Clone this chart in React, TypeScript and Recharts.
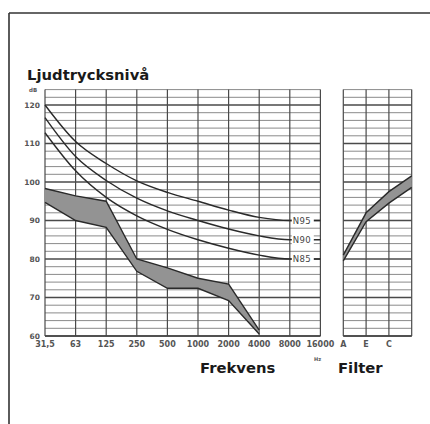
import { ComposedChart, Line, Area, XAxis, YAxis, CartesianGrid } from 'recharts';

// octave band centre frequencies (x axis of the main panel)
const freqLabels = ['31,5', '63', '125', '250', '500', '1000', '2000', '4000', '8000', '16000'];

// noise rating curves
const n95 = [120, 110.5, 104.8, 100.3, 97.3, 95, 92.7, 90.8, 90, 90];
const n90 = [116.7, 106.6, 100.4, 95.8, 92.5, 90, 87.8, 86, 85, 85];
const n85 = [112.8, 102.9, 96, 91.2, 87.7, 85, 82.8, 81, 80, 80];

// measured range (shaded band)
const bandHigh = [98.3, 96.4, 95, 80, 77.7, 75, 73.5, 61.5, null, null];
const bandLow = [94.7, 90, 88.2, 76.8, 72.4, 72.4, 69.2, 60.5, null, null];

// weighted levels (right panel)
const filterLabels = ['A', 'E', 'C', ''];
const filterHigh = [81, 92, 97.5, 101.6];
const filterLow = [79.5, 89.7, 94.5, 98.6];

const Y_MIN = 60;
const Y_MAX = 124;
const dbTicks = Array.from({ length: 33 }, (_, i) => Y_MIN + i * 2);

const mainData = freqLabels.map((f, i) => ({
  i,
  f,
  n95: n95[i],
  n90: n90[i],
  n85: n85[i],
  band: bandHigh[i] == null ? null : [bandLow[i], bandHigh[i]],
}));

const filterData = filterLabels.map((f, i) => ({
  i,
  f,
  band: [filterLow[i], filterHigh[i]],
}));

const FONT = '"DejaVu Sans", sans-serif';
const tickStyle = { fontFamily: FONT, fontSize: 8, fontWeight: 700, fill: '#555' };

const PLOT_TOP = 89.6;
const PLOT_BOTTOM = 336;

const margin = { top: PLOT_TOP, right: 109.6, bottom: 424 - PLOT_BOTTOM - 20, left: 15 };
const filterMargin = { top: PLOT_TOP, right: 18.3, bottom: 424 - PLOT_BOTTOM - 20, left: 343.3 };

// 2 dB lines thin and light, 10 dB lines darker
const hLine = (props: any) => {
  const { x1, x2, y1, index } = props;
  const v = Math.round(Y_MAX - ((y1 - PLOT_TOP) / (PLOT_BOTTOM - PLOT_TOP)) * (Y_MAX - Y_MIN));
  const major = v % 10 === 0;
  return (
    <line
      key={`h-${index}`}
      x1={x1}
      x2={x2}
      y1={y1}
      y2={y1}
      stroke={major ? '#4a4a4a' : '#8a8a8a'}
      strokeWidth={major ? 1.3 : 1}
    />
  );
};

const vLine = (props: any) => {
  const { x1, y1, y2, index } = props;
  return <line key={`v-${index}`} x1={x1} x2={x1} y1={y1} y2={y2} stroke="#4a4a4a" strokeWidth={1.2} />;
};

const endLabel = (name: string) => (props: any) => {
  const { x, y, index } = props;
  if (index !== 8) return <g key={`e-${name}-${index}`} />;
  return (
    <g key={`e-${name}-${index}`}>
      <rect x={x + 2} y={y - 5} width={22} height={10} fill="#fff" />
      <text x={x + 3} y={y + 3} fontFamily={FONT} fontSize={8.5} fill="#444" letterSpacing={0.4}>
        {name}
      </text>
    </g>
  );
};

const yTickFmt = (v: number) => (v % 10 === 0 ? String(v) : '');

export default function App() {
  return (
    <div style={{ position: 'absolute', left: 0, top: 0, width: 430, height: 424, background: '#fff' }}>
      <div style={{ position: 'absolute', left: 0, top: 0 }}>
        <ComposedChart width={430} height={424} data={mainData} margin={margin}>
          <CartesianGrid horizontal={hLine} vertical={vLine} />
          <XAxis
            dataKey="i"
            type="number"
            domain={[0, 9]}
            ticks={mainData.map((d) => d.i)}
            tickFormatter={(v) => freqLabels[v]}
            interval={0}
            height={20}
            tickLine={false}
            axisLine={{ stroke: '#444', strokeWidth: 1.3 }}
            tickSize={3}
            tickMargin={2}
            tick={tickStyle}
          />
          <YAxis
            type="number"
            domain={[Y_MIN, Y_MAX]}
            ticks={dbTicks}
            interval={0}
            tickFormatter={yTickFmt}
            width={30}
            tickLine={false}
            axisLine={false}
            tickSize={3}
            tickMargin={2}
            tick={{ ...tickStyle, fontSize: 7.5 }}
          />
          <Area
            dataKey="band"
            type="linear"
            fill="#939393"
            fillOpacity={1}
            stroke="#2a2a2a"
            strokeWidth={1.4}
            isAnimationActive={false}
          />
          <Line dataKey="n95" type="monotone" stroke="#2a2a2a" strokeWidth={1.4} dot={false} isAnimationActive={false} label={endLabel('N95')} />
          <Line dataKey="n90" type="monotone" stroke="#2a2a2a" strokeWidth={1.4} dot={false} isAnimationActive={false} label={endLabel('N90')} />
          <Line dataKey="n85" type="monotone" stroke="#2a2a2a" strokeWidth={1.4} dot={false} isAnimationActive={false} label={endLabel('N85')} />
        </ComposedChart>
      </div>
      <div style={{ position: 'absolute', left: 0, top: 0 }}>
        <ComposedChart width={430} height={424} data={filterData} margin={filterMargin}>
          <CartesianGrid horizontal={hLine} vertical={vLine} />
          <XAxis
            dataKey="i"
            type="number"
            domain={[0, 3]}
            ticks={filterData.map((d) => d.i)}
            tickFormatter={(v) => filterLabels[v]}
            interval={0}
            height={20}
            tickLine={false}
            axisLine={{ stroke: '#444', strokeWidth: 1.3 }}
            tickSize={3}
            tickMargin={2}
            tick={tickStyle}
          />
          <YAxis type="number" domain={[Y_MIN, Y_MAX]} ticks={dbTicks} interval={0} hide />
          <Area
            dataKey="band"
            type="linear"
            fill="#939393"
            fillOpacity={1}
            stroke="#2a2a2a"
            strokeWidth={1.4}
            isAnimationActive={false}
          />
        </ComposedChart>
      </div>
      <svg width={430} height={424} style={{ position: 'absolute', left: 0, top: 0, pointerEvents: 'none' }}>
        <line x1={9} y1={13} x2={430} y2={13} stroke="#333" strokeWidth={1.6} />
        <line x1={9} y1={13} x2={9} y2={424} stroke="#333" strokeWidth={1.6} />
        <text x={27} y={80} fontFamily={FONT} fontWeight={700} fontSize={14.8} fill="#1a1a1a">
          Ljudtrycksnivå
        </text>
        <text x={29} y={91.5} fontFamily={FONT} fontWeight={700} fontSize={5.5} fill="#555">
          dB
        </text>
        <text x={200} y={372.5} fontFamily={FONT} fontWeight={700} fontSize={14.8} fill="#1a1a1a">
          Frekvens
        </text>
        <text x={314} y={361} fontFamily={FONT} fontWeight={700} fontSize={5} fill="#555">
          Hz
        </text>
        <text x={338} y={372.5} fontFamily={FONT} fontWeight={700} fontSize={14.8} fill="#1a1a1a">
          Filter
        </text>
      </svg>
    </div>
  );
}
